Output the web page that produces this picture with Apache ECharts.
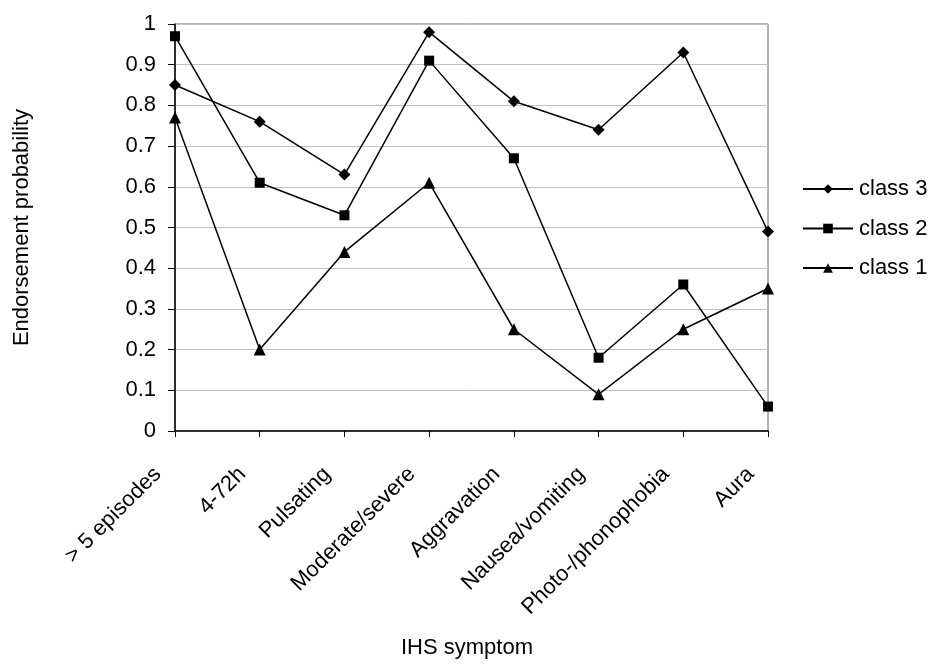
<!DOCTYPE html>
<html>
<head>
<meta charset="utf-8">
<script src="https://cdn.jsdelivr.net/npm/echarts@6/dist/echarts.min.js"></script>
<style>html,body{margin:0;padding:0;background:#fff}#c{width:936px;height:664px}</style>
</head>
<body>
<div id="c"></div>
<script>
const categories = ['> 5 episodes', '4-72h', 'Pulsating', 'Moderate/severe', 'Aggravation', 'Nausea/vomiting', 'Photo-/phonophobia', 'Aura'];
const class3 = [0.85, 0.76, 0.63, 0.98, 0.81, 0.74, 0.93, 0.49];
const class2 = [0.97, 0.61, 0.53, 0.91, 0.67, 0.18, 0.36, 0.06];
const class1 = [0.77, 0.20, 0.44, 0.61, 0.25, 0.09, 0.25, 0.35];
const yTicks = [0, 0.1, 0.2, 0.3, 0.4, 0.5, 0.6, 0.7, 0.8, 0.9, 1];

const font = 'Liberation Sans, Arial, sans-serif';
const fs = 22;
const chart = echarts.init(document.getElementById('c'), null, {renderer: 'canvas'});
function ser(name, data, symbol, size) {
  return {
    name, type: 'line', data, symbol, symbolSize: size,
    lineStyle: {color: '#000', width: 1.5},
    itemStyle: {color: '#000'},
    animation: false
  };
}
chart.setOption({
  backgroundColor: '#fff',
  animation: false,
  grid: {left: 175, right: 168, top: 24, bottom: 231, show: true, borderColor: '#666', borderWidth: 1},
  legend: {
    orient: 'vertical', left: 802, top: 178, padding: 0, itemGap: 17.5, itemWidth: 50, itemHeight: 12,
    textStyle: {fontFamily: font, fontSize: fs, color: '#000', lineHeight: 22, padding: [0,0,0,1]},
    data: ['class 3', 'class 2', 'class 1']
  },
  xAxis: {
    type: 'category', data: categories, boundaryGap: false,
    axisLine: {lineStyle: {color: '#000', width: 1.5}},
    axisTick: {show: true, alignWithLabel: true, length: 6, lineStyle: {color: '#000'}},
    axisLabel: {rotate: 45, fontFamily: font, fontSize: fs, color: '#000', margin: 22.5, interval: 0, padding: [0, 24.5, 0, 0]},
    name: 'IHS symptom', nameLocation: 'middle', nameGap: 206,
    nameTextStyle: {fontFamily: font, fontSize: fs, color: '#000', padding: [0, 9, 0, 0]},
    splitLine: {show: false}
  },
  yAxis: {
    type: 'value', min: 0, max: 1, interval: 0.1,
    axisLine: {show: true, lineStyle: {color: '#000', width: 1.5}},
    axisTick: {show: true, length: 7, lineStyle: {color: '#000'}},
    axisLabel: {fontFamily: font, fontSize: fs, color: '#000', margin: 19,
      formatter: v => { const t = yTicks.find(x => Math.abs(x - v) < 1e-9); return t === undefined ? '' : String(+t.toFixed(1)); }},
    splitLine: {show: true, lineStyle: {color: '#c0c0c0', width: 1}},
    name: 'Endorsement probability', nameLocation: 'middle', nameGap: 142,
    nameTextStyle: {fontFamily: font, fontSize: fs, color: '#000'}
  },
  series: [
    ser('class 3', class3, 'diamond', 12),
    ser('class 2', class2, 'rect', 10),
    ser('class 1', class1, 'triangle', 12)
  ]
});
</script>
</body>
</html>
